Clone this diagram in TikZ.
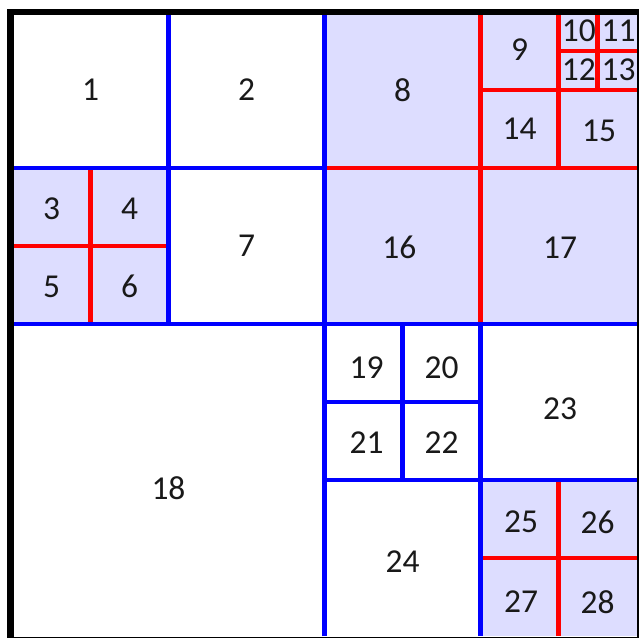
\documentclass[tikz,border=0pt]{standalone}
\usepackage{fontspec}
\setmainfont{Carlito}
\usepackage{tikz}

\definecolor{cellfill}{RGB}{221,221,255}

\begin{document}
\begin{tikzpicture}[x=2cm, y=2cm,
  filled cell/.style={fill=cellfill, draw=none},
  split blue/.style={draw=blue, line width=1.6pt},
  split red/.style={draw=red, line width=1.6pt},
  frame/.style={draw=black, line width=2.5pt},
  cell label/.style={inner sep=0pt, text=black!90, font=\fontsize{12.2}{14}\selectfont}]
  \useasboundingbox (-0.080,-0.0064) rectangle (4.016,4.077);

  % Zellen mit Unterteilung (gefuellt)
  \fill[filled cell] (0,2) rectangle (1,3);
  \fill[filled cell] (2,2) rectangle (4,4);
  \fill[filled cell] (3,0) rectangle (4,1);

  % rote Unterteilungen
  \draw[split red] (0.5,2) -- (0.5,3);
  \draw[split red] (0,2.5) -- (1,2.5);
  \draw[split red] (3,2) -- (3,4);
  \draw[split red] (2,3) -- (4,3);
  \draw[split red] (3.5,3) -- (3.5,4);
  \draw[split red] (3,3.5) -- (4,3.5);
  \draw[split red] (3.75,3.5) -- (3.75,4);
  \draw[split red] (3.5,3.75) -- (4,3.75);
  \draw[split red] (3.5,0) -- (3.5,1);
  \draw[split red] (3,0.5) -- (4,0.5);

  % blaue Unterteilungen
  \draw[split blue] (2,0) -- (2,4);
  \draw[split blue] (0,2) -- (4,2);
  \draw[split blue] (1,2) -- (1,4);
  \draw[split blue] (0,3) -- (2,3);
  \draw[split blue] (3,0) -- (3,2);
  \draw[split blue] (2,1) -- (4,1);
  \draw[split blue] (2.5,1) -- (2.5,2);
  \draw[split blue] (2,1.5) -- (3,1.5);

  % Rahmen
  \draw[frame] (-0.01,-0.03) rectangle (4.022,4);

  % Nummern
  \node[cell label] (c1) at (0.5,3.5) {1};
  \node[cell label] (c2) at (1.5,3.5) {2};
  \node[cell label] (c3) at (0.25,2.74) {3};
  \node[cell label] (c4) at (0.75,2.74) {4};
  \node[cell label] (c5) at (0.25,2.24) {5};
  \node[cell label] (c6) at (0.75,2.24) {6};
  \node[cell label] (c7) at (1.5,2.5) {7};
  \node[cell label] (c8) at (2.5,3.5) {8};
  \node[cell label] (c9) at (3.25,3.76) {9};
  \node[cell label] (c10) at (3.63,3.88) {10};
  \node[cell label] (c11) at (3.885,3.88) {11};
  \node[cell label] (c12) at (3.63,3.63) {12};
  \node[cell label] (c13) at (3.885,3.63) {13};
  \node[cell label] (c14) at (3.25,3.25) {14};
  \node[cell label] (c15) at (3.76,3.24) {15};
  \node[cell label] (c16) at (2.48,2.49) {16};
  \node[cell label] (c17) at (3.51,2.49) {17};
  \node[cell label] (c18) at (1,0.95) {18};
  \node[cell label] (c19) at (2.27,1.72) {19};
  \node[cell label] (c20) at (2.75,1.72) {20};
  \node[cell label] (c21) at (2.27,1.24) {21};
  \node[cell label] (c22) at (2.75,1.24) {22};
  \node[cell label] (c23) at (3.51,1.46) {23};
  \node[cell label] (c24) at (2.5,0.48) {24};
  \node[cell label] (c25) at (3.26,0.73) {25};
  \node[cell label] (c26) at (3.75,0.73) {26};
  \node[cell label] (c27) at (3.26,0.22) {27};
  \node[cell label] (c28) at (3.75,0.22) {28};
\end{tikzpicture}
\end{document}
